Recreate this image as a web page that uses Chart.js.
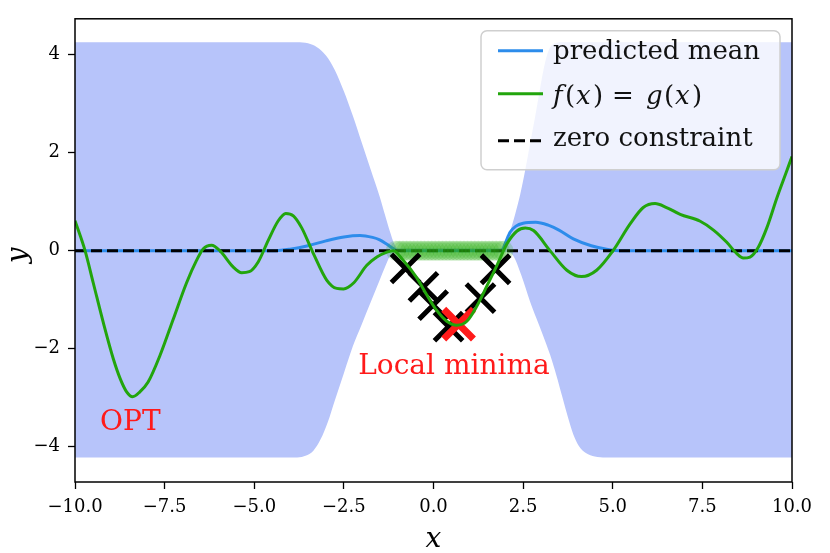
<!DOCTYPE html>
<html>
<head>
<meta charset="utf-8">
<script src="https://cdn.jsdelivr.net/npm/chart.js@4.4.1/dist/chart.umd.min.js"></script>
<style>
  html, body { margin: 0; padding: 0; background: #fff; }
  #wrap { width: 830px; height: 553px; }
</style>
</head>
<body>
<div id="wrap"><canvas id="c" width="830" height="553"></canvas></div>
<script>
// ---------------- data ----------------
const xTicks = [-10, -7.5, -5, -2.5, 0, 2.5, 5, 7.5, 10];
const xTickLabels = ['\u221210.0', '\u22127.5', '\u22125.0', '\u22122.5', '0.0', '2.5', '5.0', '7.5', '10.0'];
const yTicks = [-4, -2, 0, 2, 4];
const yTickLabels = ['\u22124', '\u22122', '0', '2', '4'];

// uncertainty band (mean +/- 2 sigma): upper edge
const upperX = [-10, -3.8, -3.5, -3.25, -3.0, -2.75, -2.5, -2.25, -2.0, -1.75, -1.5, -1.35, -1.22, -1.1, -1.0,
                1.95, 2.05, 2.15, 2.28, 2.42, 2.56, 2.7, 2.84, 2.97, 3.1, 3.22, 3.4, 3.6, 10];
const upperY = [4.25, 4.25, 4.23, 4.15, 3.98, 3.68, 3.25, 2.75, 2.2, 1.65, 1.1, 0.72, 0.4, 0.15, 0.05,
                0.05, 0.18, 0.42, 0.75, 1.15, 1.65, 2.2, 2.75, 3.3, 3.8, 4.1, 4.23, 4.25, 4.25];
// lower edge
const lowerX = [-10, -3.8, -3.55, -3.35, -3.15, -2.95, -2.75, -2.5, -2.25, -2.0, -1.75, -1.5, -1.35, -1.22, -1.1, -1.0,
                1.95, 2.1, 2.22, 2.45, 2.69, 2.87, 3.05, 3.25, 3.43, 3.6, 3.75, 3.9, 4.05, 4.25, 4.5, 4.8, 10];
const lowerY = [-4.22, -4.22, -4.18, -4.08, -3.85, -3.5, -3.05, -2.5, -1.95, -1.5, -1.05, -0.6, -0.33, -0.12, -0.04, -0.03,
                -0.03, -0.04, -0.1, -0.5, -1.03, -1.38, -1.72, -2.12, -2.55, -3.0, -3.4, -3.75, -3.98, -4.13, -4.2, -4.22, -4.22];

// predicted mean
const meanX = [-10, -4.4, -4.0, -3.5, -3.0, -2.5, -2.05, -1.7, -1.5, -1.3, -1.1, -1.0, 1.9, 2.0, 2.14, 2.3, 2.5, 2.85, 3.2, 3.5, 3.9, 4.4, 4.9, 5.2, 10];
const meanY = [0, 0, 0.03, 0.1, 0.2, 0.28, 0.31, 0.27, 0.22, 0.13, 0.03, 0, 0, 0.15, 0.38, 0.5, 0.56, 0.58, 0.52, 0.42, 0.24, 0.1, 0.02, 0, 0];

// f(x) = g(x)
const fX = [-10, -9.72, -9.49, -9.21, -8.93, -8.74, -8.56, -8.39, -8.19, -7.96, -7.63, -7.26, -6.89, -6.61, -6.42, -6.19,
            -5.96, -5.59, -5.35, -5.14, -4.89, -4.61, -4.33, -4.12, -3.91, -3.68, -3.35, -2.98, -2.7, -2.51, -2.23, -1.86,
            -1.58, -1.3, -1.12, -0.84, -0.47, -0.19, 0.09, 0.37, 0.65, 0.93, 1.21, 1.49, 1.77, 2.05, 2.33, 2.56, 2.79,
            3.25, 3.72, 4.13, 4.55, 5.01, 5.48, 5.85, 6.18, 6.5, 6.88, 7.44, 7.81, 8.18, 8.46, 8.64, 8.83, 9.06, 9.3, 9.58, 9.85, 10];
const fY = [0.61, 0.0, -0.66, -1.47, -2.21, -2.61, -2.88, -2.98, -2.88, -2.68, -2.14, -1.4, -0.66, -0.2, 0.04, 0.11,
            0.0, -0.33, -0.45, -0.43, -0.23, 0.21, 0.61, 0.76, 0.71, 0.47, -0.06, -0.6, -0.77, -0.78, -0.66, -0.3,
            -0.13, -0.03, 0.0, -0.2, -0.55, -0.9, -1.22, -1.44, -1.52, -1.44, -1.13, -0.72, -0.3, 0.14, 0.4, 0.46, 0.41,
            0.0, -0.4, -0.53, -0.4, 0.0, 0.54, 0.88, 0.96, 0.88, 0.74, 0.6, 0.42, 0.17, -0.06, -0.15, -0.13, 0.07, 0.47, 1.08, 1.62, 1.92];

// zero-constraint line
const zeroX = [-10, 10];
const zeroY = [0, 0];

// zero observations (green dots)
const dotsX = [-1.05, -0.95, -0.85, -0.75, -0.65, -0.55, -0.45, -0.35, -0.25, -0.15, -0.05, 0.05, 0.15, 0.25, 0.35, 0.45,
               0.55, 0.65, 0.75, 0.85, 0.95, 1.05, 1.15, 1.25, 1.35, 1.45, 1.55, 1.65, 1.75, 1.85, 1.95];
const dotsY = [0, 0, 0, 0, 0, 0, 0, 0, 0, 0, 0, 0, 0, 0, 0, 0, 0, 0, 0, 0, 0, 0, 0, 0, 0, 0, 0, 0, 0, 0, 0];

// black crosses and the local minimum
const crossX = [-0.78, -0.28, -0.01, 0.42, 1.31, 1.73];
const crossY = [-0.36, -0.74, -1.11, -1.55, -0.97, -0.38];
const minX = [0.7];
const minY = [-1.5];

const legendLabels = ['predicted mean', 'f(x) = g(x)', 'zero constraint'];

// ---------------- helpers ----------------
const pts = (xs, ys) => xs.map((x, i) => ({ x: x, y: ys[i] }));
const SERIF = '"DejaVu Serif", "Liberation Serif", serif';
const BLUE = '#2d8ceb', GREEN = '#22a50c', BAND = '#b7c4fa', RED = '#ff1a1a';

const overlay = {
  id: 'overlay',
  afterDatasetsDraw(chart) {
    const { ctx, chartArea: a, scales } = chart;
    const sx = scales.x, sy = scales.y;
    ctx.save();
    // frame
    ctx.strokeStyle = '#000';
    ctx.lineWidth = 1.5;
    ctx.setLineDash([]);
    ctx.strokeRect(a.left, a.top, a.right - a.left, a.bottom - a.top);

    // annotations
    ctx.fillStyle = RED;
    ctx.font = '28px ' + SERIF;
    ctx.textAlign = 'left';
    ctx.textBaseline = 'alphabetic';
    ctx.fillText('OPT', sx.getPixelForValue(-9.3), sy.getPixelForValue(-3.66));
    ctx.fillText('Local minima', sx.getPixelForValue(-2.1), sy.getPixelForValue(-2.51));

    // legend
    const bx = a.right - 311, by = a.top + 12, bw = 299, bh = 139, r = 6;
    ctx.beginPath();
    ctx.moveTo(bx + r, by);
    ctx.arcTo(bx + bw, by, bx + bw, by + bh, r);
    ctx.arcTo(bx + bw, by + bh, bx, by + bh, r);
    ctx.arcTo(bx, by + bh, bx, by, r);
    ctx.arcTo(bx, by, bx + bw, by, r);
    ctx.closePath();
    ctx.fillStyle = 'rgba(255,255,255,0.8)';
    ctx.fill();
    ctx.strokeStyle = '#cfcfcf';
    ctx.lineWidth = 1.5;
    ctx.stroke();

    const lx0 = bx + 17, lx1 = bx + 62, tx = bx + 72;
    const rows = [by + 20, by + 63, by + 110];
    const styles = [
      { c: BLUE, dash: [] },
      { c: GREEN, dash: [] },
      { c: '#000', dash: [11, 5] }
    ];
    ctx.lineWidth = 3;
    rows.forEach((ry, i) => {
      ctx.strokeStyle = styles[i].c;
      ctx.setLineDash(styles[i].dash);
      ctx.beginPath();
      ctx.moveTo(lx0, ry);
      ctx.lineTo(lx1, ry);
      ctx.stroke();
    });
    ctx.setLineDash([]);
    ctx.fillStyle = '#111';
    ctx.textBaseline = 'alphabetic';
    ctx.font = '26px ' + SERIF;
    ctx.fillText(legendLabels[0], tx, rows[0] + 8);
    ctx.fillText(legendLabels[2], tx, rows[2] + 5);
    // math label f(x) = g(x)
    const mb = rows[1] + 10;
    const it = 'italic 26px ' + SERIF, up = '26px ' + SERIF;
    const parts = [
      ['f', it, 0], ['(', up, 12], ['x', it, 23], [')', up, 40],
      ['=', up, 59], ['g', it, 93], ['(', up, 111], ['x', it, 122], [')', up, 139]
    ];
    parts.forEach(p => { ctx.font = p[1]; ctx.fillText(p[0], tx + p[2], mb); });

    ctx.restore();
  },
  afterDraw(chart) {
    const { ctx, chartArea: a } = chart;
    ctx.save();
    ctx.fillStyle = '#000';
    ctx.font = 'italic 28px ' + SERIF;
    ctx.textAlign = 'center';
    ctx.textBaseline = 'alphabetic';
    ctx.fillText('x', (a.left + a.right) / 2, 547);
    ctx.translate(26, (a.top + a.bottom) / 2 + 5);
    ctx.rotate(-Math.PI / 2);
    ctx.fillText('y', 0, 0);
    ctx.restore();
  }
};

const lineBase = { pointRadius: 0, fill: false, cubicInterpolationMode: 'monotone' };

new Chart(document.getElementById('c'), {
  type: 'line',
  data: {
    datasets: [
      Object.assign({}, lineBase, { label: 'band upper', data: pts(upperX, upperY), borderWidth: 0, borderColor: 'rgba(0,0,0,0)', backgroundColor: BAND, fill: 1, order: 8 }),
      Object.assign({}, lineBase, { label: 'band lower', data: pts(lowerX, lowerY), borderWidth: 0, borderColor: 'rgba(0,0,0,0)', order: 7 }),
      Object.assign({}, lineBase, { label: legendLabels[0], data: pts(meanX, meanY), borderColor: BLUE, borderWidth: 3, order: 6 }),
      Object.assign({}, lineBase, { label: legendLabels[2], data: pts(zeroX, zeroY), borderColor: '#000', borderWidth: 3, borderDash: [11, 5], order: 5 }),
      { label: 'zero obs', data: pts(dotsX, dotsY), showLine: false, pointRadius: 10, pointBorderWidth: 0, pointBackgroundColor: 'rgba(40,175,20,0.22)', borderColor: 'rgba(0,0,0,0)', order: 4 },
      { label: 'crosses', data: pts(crossX, crossY), showLine: false, pointStyle: 'crossRot', pointRadius: 20, pointBorderWidth: 5, pointBorderColor: '#000', order: 3 },
      { label: 'local min', data: pts(minX, minY), showLine: false, pointStyle: 'crossRot', pointRadius: 21, pointBorderWidth: 7, pointBorderColor: RED, order: 2 },
      Object.assign({}, lineBase, { label: legendLabels[1], data: pts(fX, fY), borderColor: GREEN, borderWidth: 3, order: 1 })
    ]
  },
  options: {
    responsive: false,
    animation: false,
    events: [],
    layout: { padding: { left: 0, right: 38, top: 15, bottom: 0 }, autoPadding: false },
    plugins: { legend: { display: false }, tooltip: { enabled: false } },
    scales: {
      x: {
        type: 'linear', min: -10, max: 10,
        afterBuildTicks: s => { s.ticks = xTicks.map(v => ({ value: v })); },
        afterFit: s => { s.height = 71; },
        ticks: {
          callback: (v) => xTickLabels[xTicks.indexOf(v)],
          font: { family: 'DejaVu Serif', size: 18 }, color: '#000', padding: 8, maxRotation: 0, autoSkip: false
        },
        grid: { drawOnChartArea: false, tickLength: 7, tickColor: '#000', tickWidth: 1.3 },
        border: { display: false }
      },
      y: {
        type: 'linear', min: -4.72, max: 4.73,
        afterBuildTicks: s => { s.ticks = yTicks.map(v => ({ value: v })); },
        afterFit: s => { s.width = 75; },
        ticks: {
          callback: (v) => yTickLabels[yTicks.indexOf(v)],
          font: { family: 'DejaVu Serif', size: 18 }, color: '#000', padding: 8, autoSkip: false
        },
        grid: { drawOnChartArea: false, tickLength: 7, tickColor: '#000', tickWidth: 1.3 },
        border: { display: false }
      }
    }
  },
  plugins: [overlay]
});
</script>
</body>
</html>
